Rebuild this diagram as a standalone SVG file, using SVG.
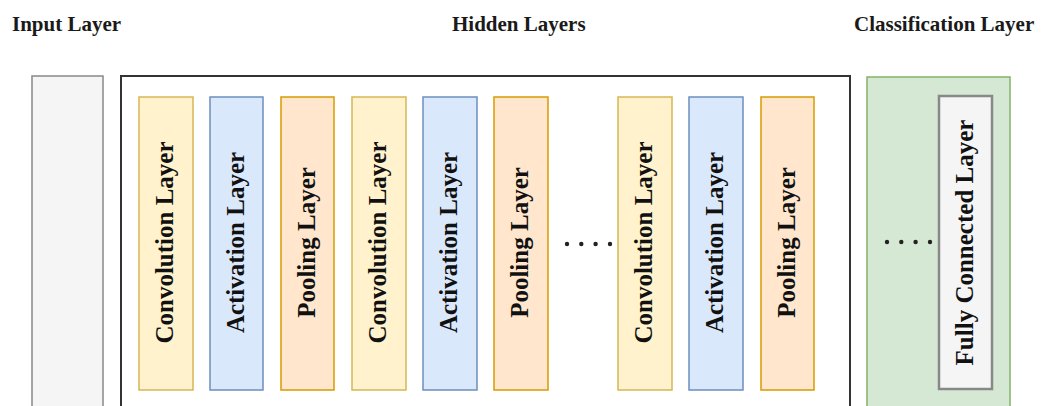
<svg xmlns="http://www.w3.org/2000/svg" width="1043" height="406" viewBox="0 0 1043 406">
<style>
.hdr{font-family:"Liberation Serif","Times New Roman",serif;font-weight:bold;font-size:21px;fill:#1a1a1a}
.lbl{font-family:"Liberation Serif","Times New Roman",serif;font-weight:bold;font-size:25px;fill:#111;text-anchor:middle}
.conv{fill:#fff2cc;stroke:#d6b656;stroke-width:1.5}
.act{fill:#dae8fc;stroke:#6c8ebf;stroke-width:1.5}
.pool{fill:#ffe6cc;stroke:#d79b00;stroke-width:1.5}
.dot{fill:#222}
</style>
<rect width="1043" height="406" fill="#ffffff"/>
<g id="headers">
<text class="hdr" x="12" y="31">Input Layer</text>
<text class="hdr" x="452" y="31">Hidden Layers</text>
<text class="hdr" x="854" y="31">Classification Layer</text>
</g>
<g id="input-layer">
<rect x="32" y="76" width="71" height="340" fill="#f5f5f5" stroke="#888" stroke-width="1.5"/>
</g>
<g id="hidden-layers">
<rect x="121" y="76" width="729" height="340" fill="#ffffff" stroke="#333" stroke-width="2"/>
</g>
<g id="classification-layer">
<rect x="867" y="77" width="143" height="340" fill="#d5e8d4" stroke="#82b366" stroke-width="1.5"/>
</g>
<g id="conv1"><rect class="conv" x="139" y="97" width="54" height="293"/><text class="lbl" transform="translate(173,242.5) rotate(-90)">Convolution Layer</text></g>
<g id="act1"><rect class="act" x="210" y="97" width="53" height="293"/><text class="lbl" transform="translate(243.5,242.5) rotate(-90)">Activation Layer</text></g>
<g id="pool1"><rect class="pool" x="281" y="97" width="53" height="293"/><text class="lbl" transform="translate(314.5,242.5) rotate(-90)">Pooling Layer</text></g>
<g id="conv2"><rect class="conv" x="352" y="97" width="54" height="293"/><text class="lbl" transform="translate(386,242.5) rotate(-90)">Convolution Layer</text></g>
<g id="act2"><rect class="act" x="423" y="97" width="54" height="293"/><text class="lbl" transform="translate(457,242.5) rotate(-90)">Activation Layer</text></g>
<g id="pool2"><rect class="pool" x="494" y="97" width="54" height="293"/><text class="lbl" transform="translate(528,242.5) rotate(-90)">Pooling Layer</text></g>
<g id="conv3"><rect class="conv" x="618" y="97" width="54" height="293"/><text class="lbl" transform="translate(652,242.5) rotate(-90)">Convolution Layer</text></g>
<g id="act3"><rect class="act" x="689" y="97" width="54" height="293"/><text class="lbl" transform="translate(723,242.5) rotate(-90)">Activation Layer</text></g>
<g id="pool3"><rect class="pool" x="761" y="97" width="53" height="293"/><text class="lbl" transform="translate(794.5,242.5) rotate(-90)">Pooling Layer</text></g>
<g id="fully-connected"><rect x="939" y="96" width="53" height="293" fill="#f5f5f5" stroke="#888" stroke-width="2.5"/><text class="lbl" transform="translate(972.5,242.5) rotate(-90)">Fully Connected Layer</text></g>
<g id="connectors">
<circle class="dot" cx="567" cy="244" r="2.2"/><circle class="dot" cx="581.3" cy="244" r="2.2"/><circle class="dot" cx="595.6" cy="244" r="2.2"/><circle class="dot" cx="610" cy="244" r="2.2"/>
<circle class="dot" cx="887" cy="242" r="2.2"/><circle class="dot" cx="901.3" cy="242" r="2.2"/><circle class="dot" cx="915.6" cy="242" r="2.2"/><circle class="dot" cx="930" cy="242" r="2.2"/>
</g>
</svg>
